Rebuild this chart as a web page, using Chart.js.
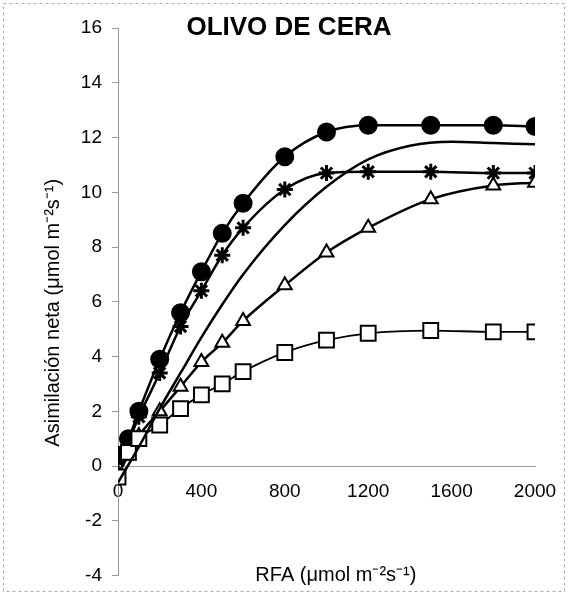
<!DOCTYPE html>
<html>
<head>
<meta charset="utf-8">
<script src="https://cdn.jsdelivr.net/npm/chart.js@4"></script>
<style>
  html, body { margin: 0; padding: 0; background: #fff; }
  #wrap { width: 570px; height: 597px; }
</style>
</head>
<body>
<div id="wrap"><canvas id="chart" width="570" height="597"></canvas></div>
<script>
// Données
const rfa = [0, 50, 100, 200, 300, 400, 500, 600, 800, 1000, 1200, 1500, 1800, 2000];
const circulos = [0.4, 1.0, 2.0, 3.9, 5.6, 7.1, 8.5, 9.6, 11.3, 12.2, 12.45, 12.45, 12.45, 12.4];
const estrellas = [0.2, 0.9, 1.8, 3.4, 5.1, 6.4, 7.7, 8.7, 10.1, 10.7, 10.75, 10.75, 10.7, 10.7];
const triangulos = [-0.3, 0.4, 1.1, 2.0, 2.9, 3.8, 4.5, 5.3, 6.6, 7.8, 8.7, 9.75, 10.25, 10.35];
const cuadrados = [-0.4, 0.5, 1.0, 1.5, 2.1, 2.6, 3.0, 3.45, 4.15, 4.6, 4.85, 4.95, 4.9, 4.9];

// Courbe lisse sans marqueurs
const ajusteX = [0, 100, 200, 300, 400, 500, 600, 800, 1000, 1200, 1400, 1600, 1800, 2000];
const ajusteY = [-0.6, 0.7, 2.1, 3.4, 4.7, 5.9, 7.0, 8.8, 10.2, 11.2, 11.7, 11.85, 11.8, 11.75];

const xTicks = [0, 400, 800, 1200, 1600, 2000];
const yTicks = [-4, -2, 0, 2, 4, 6, 8, 10, 12, 14, 16];

const titulo = 'OLIVO DE CERA';
const tituloX = 'RFA (\u03bcmol m\u207b\u00b2s\u207b\u00b9)';
const tituloY = 'Asimilaci\u00f3n neta (\u03bcmol m\u207b\u00b2s\u207b\u00b9)';

const FONT = 'Liberation Sans, Arial, sans-serif';

function pts(xs, ys) {
  return xs.map((x, i) => ({ x, y: ys[i] }));
}

function serie(data, style, radius, fill, width) {
  return {
    data: pts(rfa, data),
    borderColor: '#000',
    borderWidth: width,
    pointStyle: style,
    pointRadius: radius,
    pointBackgroundColor: fill,
    pointBorderColor: '#000',
    pointBorderWidth: style === 'star' ? 3 : 2,
    cubicInterpolationMode: 'monotone',
    fill: false
  };
}

// Textes dans la zone du graphique + cadre du scan
const textos = {
  id: 'textos',
  afterDraw(chart) {
    const c = chart.ctx, sx = chart.scales.x, sy = chart.scales.y;
    c.save();
    c.fillStyle = '#000';
    c.textAlign = 'center';
    c.textBaseline = 'middle';
    c.font = 'bold 26px ' + FONT;
    c.fillText(titulo, sx.getPixelForValue(820), sy.getPixelForValue(16));
    c.font = '20px ' + FONT;
    c.fillText(tituloX, sx.getPixelForValue(1045), sy.getPixelForValue(-4));
    // titre vertical
    c.save();
    c.translate(53, sy.getPixelForValue(5.6));
    c.rotate(-Math.PI / 2);
    c.fillText(tituloY, 0, 0);
    c.restore();
    // cadre pointillé
    c.strokeStyle = '#aaa';
    c.lineWidth = 1;
    c.setLineDash([3, 3]);
    c.strokeRect(3.5, 3.5, 561, 588);
    c.restore();
  }
};

new Chart(document.getElementById('chart'), {
  type: 'line',
  data: {
    datasets: [
      {
        data: pts(ajusteX, ajusteY),
        borderColor: '#000',
        borderWidth: 2.5,
        pointRadius: 0,
        cubicInterpolationMode: 'monotone',
        fill: false
      },
      serie(cuadrados, 'rect', 10.5, '#fff', 1.8),
      serie(triangulos, 'triangle', 8, '#fff', 2.5),
      serie(estrellas, 'star', 8, '#000', 2.5),
      serie(circulos, 'circle', 8.5, '#000', 2.5)
    ]
  },
  plugins: [textos],
  options: {
    responsive: false,
    animation: false,
    layout: { padding: { left: 0, right: 35, top: 28, bottom: 20 } },
    plugins: { legend: { display: false }, tooltip: { enabled: false } },
    scales: {
      x: {
        type: 'linear',
        position: { y: 0 },
        min: 0,
        max: 2000,
        afterFit: s => { s.height = 0; },
        afterBuildTicks: s => { s.ticks = xTicks.map(v => ({ value: v })); },
        grid: { display: false },
        border: { display: true, color: '#999', dash: [4, 2], width: 1 },
        ticks: {
          color: '#000',
          font: { family: FONT, size: 19 },
          padding: 6,
          callback: v => String(v)
        }
      },
      y: {
        type: 'linear',
        min: -4,
        max: 16,
        afterFit: s => { s.width = 118; },
        afterBuildTicks: s => { s.ticks = yTicks.map(v => ({ value: v })); },
        grid: { display: true, drawOnChartArea: false, tickLength: 6, color: '#999' },
        border: { display: true, color: '#999', dash: [4, 2], width: 1 },
        ticks: { color: '#000', font: { family: FONT, size: 19 }, padding: 10 }
      }
    }
  }
});
</script>
</body>
</html>
